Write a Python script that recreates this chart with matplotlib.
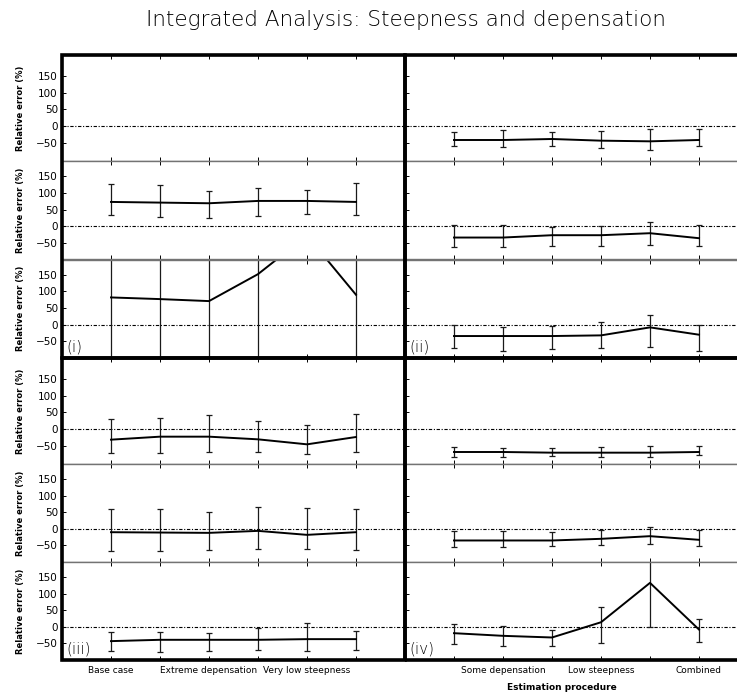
"""Integrated analysis: relative error of each estimation procedure,
for the four scenario groups (i)-(iv), three stacked panels each."""

import numpy as np
import matplotlib.pyplot as plt
from matplotlib.patches import Rectangle

W, H = 737, 693

cases = ["Base case", "Some depensation", "Extreme depensation",
         "Low steepness", "Very low steepness", "Combined"]
xpos = np.arange(1, 7)

# (i) top-left: first panel empty
i_mid_mean = [73, 71, 69, 76, 76, 73]
i_mid_lo = [35, 29, 26, 32, 38, 35]
i_mid_hi = [126, 123, 107, 116, 110, 129]
i_bot_mean = [82, 77, 71, 152, 268, 90]
i_bot_lo = [-160, -160, -160, -160, 215, -160]
i_bot_hi = [320, 320, 320, 320, 330, 320]

# (ii) top-right
ii_top_mean = [-42, -42, -39, -44, -46, -42]
ii_top_lo = [-61, -64, -60, -67, -72, -60]
ii_top_hi = [-17, -12, -18, -14, -10, -10]
ii_mid_mean = [-34, -34, -27, -27, -21, -36]
ii_mid_lo = [-63, -63, -58, -58, -57, -59]
ii_mid_hi = [4, 5, -1, 0, 12, 4]
ii_bot_mean = [-34, -34, -34, -32, -8, -30]
ii_bot_lo = [-70, -80, -73, -70, -68, -78]
ii_bot_hi = [-2, -8, -3, 8, 28, -2]

# (iii) bottom-left
iii_top_mean = [-32, -23, -23, -31, -46, -24]
iii_top_lo = [-71, -71, -68, -68, -74, -68]
iii_top_hi = [31, 34, 42, 25, 13, 46]
iii_mid_mean = [-10, -11, -12, -6, -18, -10]
iii_mid_lo = [-66, -67, -63, -60, -60, -63]
iii_mid_hi = [59, 59, 50, 65, 62, 59]
iii_bot_mean = [-43, -39, -39, -39, -37, -37]
iii_bot_lo = [-73, -76, -73, -69, -72, -69]
iii_bot_hi = [-14, -14, -17, -3, 12, -12]

# (iv) bottom-right
iv_top_mean = [-69, -69, -71, -71, -71, -69]
iv_top_lo = [-83, -83, -81, -83, -83, -79]
iv_top_hi = [-55, -56, -56, -53, -52, -52]
iv_mid_mean = [-35, -35, -35, -30, -22, -33]
iv_mid_lo = [-55, -55, -52, -50, -47, -52]
iv_mid_hi = [-6, -6, -10, -2, 5, -4]
iv_bot_mean = [-19, -27, -32, 14, 133, -8]
iv_bot_lo = [-51, -57, -58, -48, 0, -45]
iv_bot_hi = [9, 3, -9, 59, 205, 23]

yticks = [-50, 0, 50, 100, 150]

panels = {
    (0, 0): [None,
             (i_mid_mean, i_mid_lo, i_mid_hi),
             (i_bot_mean, i_bot_lo, i_bot_hi)],
    (0, 1): [(ii_top_mean, ii_top_lo, ii_top_hi),
             (ii_mid_mean, ii_mid_lo, ii_mid_hi),
             (ii_bot_mean, ii_bot_lo, ii_bot_hi)],
    (1, 0): [(iii_top_mean, iii_top_lo, iii_top_hi),
             (iii_mid_mean, iii_mid_lo, iii_mid_hi),
             (iii_bot_mean, iii_bot_lo, iii_bot_hi)],
    (1, 1): [(iv_top_mean, iv_top_lo, iv_top_hi),
             (iv_mid_mean, iv_mid_lo, iv_mid_hi),
             (iv_bot_mean, iv_bot_lo, iv_bot_hi)],
}
tags = {(0, 0): "(i)", (0, 1): "(ii)", (1, 0): "(iii)", (1, 1): "(iv)"}

quad_rows = [[(55, 161), (161, 259.5), (259.5, 358)],
             [(358, 464), (464, 562), (562, 660)]]
quad_cols = [(62, 405), (405, 748)]


def px_axes(fig, x0, y0, x1, y1):
    return fig.add_axes([x0 / W, 1 - y1 / H, (x1 - x0) / W, (y1 - y0) / H])


fig = plt.figure(figsize=(W / 100, H / 100), dpi=100)

for (qr, qc), rows in panels.items():
    x0, x1 = quad_cols[qc]
    for r, data in enumerate(rows):
        y0, y1 = quad_rows[qr][r]
        ax = px_axes(fig, x0, y0, x1, y1)
        ax.set_xlim(0, 7)
        ax.set_ylim(*((-105, 213) if r == 0 else (-100, 196)))
        ax.axhline(0, color="black", lw=0.8, ls=(0, (3, 1.5, 1, 1.5)))
        if data is not None:
            mean, lo, hi = (np.array(d, float) for d in data)
            ax.errorbar(xpos, mean, yerr=[mean - lo, hi - mean],
                        color="black", lw=1.4, ecolor="0.1",
                        elinewidth=0.9, capsize=2, capthick=0.9)
        for s in ax.spines.values():
            s.set_color("0.45")
            s.set_linewidth(1.0)
        ax.set_xticks(xpos)
        ax.set_yticks(yticks)
        ax.tick_params(direction="in", length=3, width=0.7, top=True,
                       bottom=True, left=True, right=False,
                       labelsize=7.5, pad=3)
        if qc == 0:
            ax.set_ylabel("Relative error (%)", fontsize=6, fontweight="bold")
            ax.yaxis.set_label_coords(-0.108, 0.5)
        else:
            ax.set_yticklabels([])
        if qr == 1 and r == 2:
            labels = [c if (i % 2 == qc) else "" for i, c in enumerate(cases)]
            ax.set_xticklabels(labels, fontsize=6.5)
            ax.tick_params(axis="x", pad=4)
        else:
            ax.set_xticklabels([])
        if r == 2:
            ax.text(0.012, 0.04, tags[(qr, qc)], transform=ax.transAxes,
                    fontsize=11, fontweight="light", color="black",
                    ha="left", va="bottom")

    # thick quadrant frame
    qy0, qy1 = quad_rows[qr][0][0], quad_rows[qr][2][1]
    fig.add_artist(Rectangle((x0 / W, 1 - qy1 / H), (x1 - x0) / W,
                             (qy1 - qy0) / H, transform=fig.transFigure,
                             fill=False, lw=2.6, color="black"))

fig.text(406 / W, 1 - 20 / H, "Integrated Analysis: Steepness and depensation",
         ha="center", va="center", fontsize=15.5, fontweight="light",
         color="black")
fig.text(562 / W, 1 - 688 / H, "Estimation procedure", ha="center",
         va="center", fontsize=6.5, fontweight="bold")

fig.savefig("out.png", dpi=100)
